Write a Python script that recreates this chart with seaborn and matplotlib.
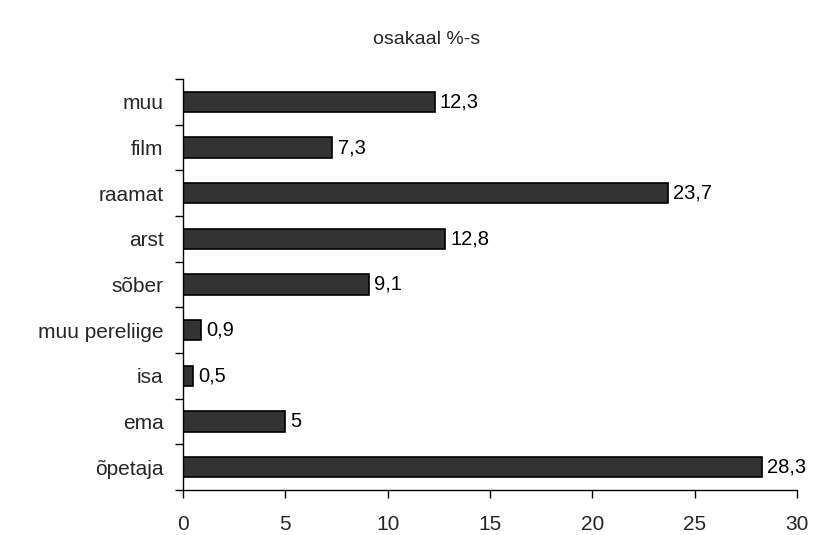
import matplotlib
matplotlib.use("Agg")
import matplotlib.pyplot as plt
from matplotlib.ticker import FixedLocator
import seaborn as sns
import pandas as pd

categories = ["muu", "film", "raamat", "arst", "sõber", "muu pereliige", "isa", "ema", "õpetaja"]
values = [12.3, 7.3, 23.7, 12.8, 9.1, 0.9, 0.5, 5, 28.3]
x_ticks = [0, 5, 10, 15, 20, 25, 30]

sns.set_theme(style="white")
plt.rcParams["font.family"] = ["Liberation Sans", "DejaVu Sans"]

df = pd.DataFrame({"kategooria": categories, "osakaal": values})

fig = plt.figure(figsize=(8.2, 5.35), dpi=100)
ax = fig.add_axes([183 / 820, 1 - 490 / 535, (797 - 183) / 820, (490 - 79) / 535])

sns.barplot(data=df, x="osakaal", y="kategooria", order=categories, orient="h",
            color="#333333", saturation=1, width=0.45,
            edgecolor="black", linewidth=1.2, ax=ax)

for bar, v in zip(ax.patches, values):
    label = f"{v:g}".replace(".", ",")
    ax.text(bar.get_width() + 0.25, bar.get_y() + bar.get_height() / 2, label,
            va="center", ha="left", fontsize=14.5, color="black")

ax.set_xlim(0, 30)
ax.set_ylim(len(categories) - 0.5, -0.5)
ax.set_xticks(x_ticks)
ax.set_xticklabels([str(t) for t in x_ticks], fontsize=15)
ax.set_xlabel("")
ax.set_ylabel("")

# category labels without tick marks; tick marks between categories
ax.tick_params(axis="y", which="major", length=0, pad=14, labelsize=15)
ax.yaxis.set_minor_locator(FixedLocator([i - 0.5 for i in range(len(categories) + 1)]))
ax.tick_params(axis="y", which="minor", length=5.5, width=1, color="black", left=True)
ax.tick_params(axis="x", which="major", length=6, width=1, color="black", bottom=True, pad=12)

for side in ["top", "right"]:
    ax.spines[side].set_visible(False)
for side in ["left", "bottom"]:
    ax.spines[side].set_color("black")
    ax.spines[side].set_linewidth(1)

fig.text(427 / 820, 1 - 40 / 535, "osakaal %-s", ha="center", va="center", fontsize=14)

fig.savefig("out.png", dpi=100)
